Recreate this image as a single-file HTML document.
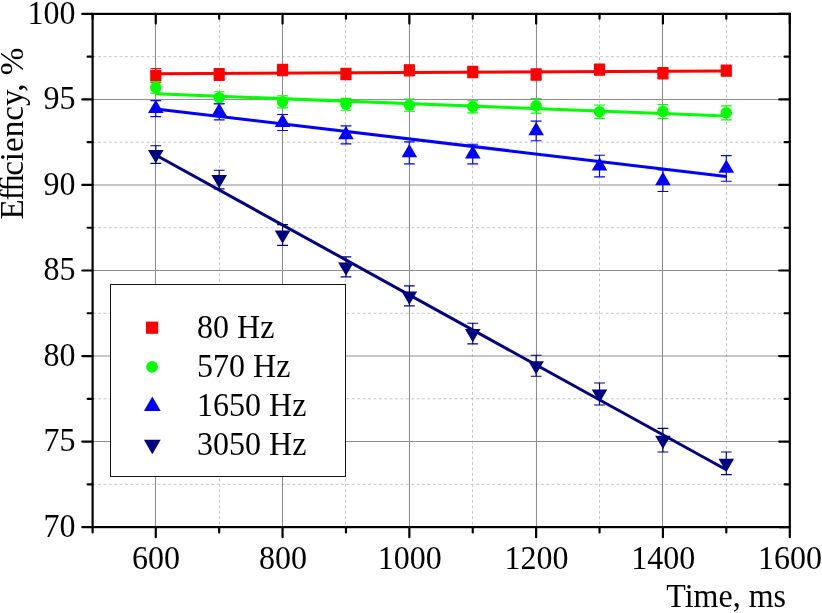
<!DOCTYPE html>
<html><head><meta charset="utf-8"><title>chart</title>
<style>html,body{margin:0;padding:0;background:#fff;width:822px;height:613px;overflow:hidden}</style></head>
<body>
<svg width="822" height="613" viewBox="0 0 822 613" style="position:absolute;left:0;top:0;will-change:transform;font-family:'Liberation Serif',serif;font-size:32px">
<path d="M219.50 13.9 V527.1 M345.50 13.9 V527.1 M472.50 13.9 V527.1 M599.50 13.9 V527.1 M726.50 13.9 V527.1 M92.6 484.33 H789.8 M92.6 398.80 H789.8 M92.6 313.27 H789.8 M92.6 227.73 H789.8 M92.6 142.20 H789.8 M92.6 56.67 H789.8" stroke="#c6c6c6" stroke-width="1" stroke-dasharray="3 2.4" fill="none"/>
<path d="M155.50 13.9 V527.1 M282.50 13.9 V527.1 M409.50 13.9 V527.1 M536.50 13.9 V527.1 M662.50 13.9 V527.1 M92.6 441.57 H789.8 M92.6 356.03 H789.8 M92.6 270.50 H789.8 M92.6 184.97 H789.8 M92.6 99.43 H789.8" stroke="#8e8e8e" stroke-width="1.1" fill="none"/>
<path d="M155.7 73.7 L726.3 71.0" stroke="#ff0000" stroke-width="3" fill="none"/>
<path d="M155.79 68.60 V82.60 M150.39 68.60 h10.8 M150.39 82.60 h10.8" stroke="#ff0000" stroke-width="1.15" fill="none"/>
<rect x="150.19" y="70.00" width="11.2" height="11.2" fill="#ff0000"/>
<path d="M219.18 68.50 V80.30 M213.78 68.50 h10.8 M213.78 80.30 h10.8" stroke="#ff0000" stroke-width="1.15" fill="none"/>
<rect x="213.58" y="68.80" width="11.2" height="11.2" fill="#ff0000"/>
<path d="M282.57 64.40 V75.60 M277.17 64.40 h10.8 M277.17 75.60 h10.8" stroke="#ff0000" stroke-width="1.15" fill="none"/>
<rect x="276.97" y="64.40" width="11.2" height="11.2" fill="#ff0000"/>
<path d="M345.96 68.40 V79.60 M340.56 68.40 h10.8 M340.56 79.60 h10.8" stroke="#ff0000" stroke-width="1.15" fill="none"/>
<rect x="340.36" y="68.40" width="11.2" height="11.2" fill="#ff0000"/>
<path d="M409.35 64.70 V75.90 M403.95 64.70 h10.8 M403.95 75.90 h10.8" stroke="#ff0000" stroke-width="1.15" fill="none"/>
<rect x="403.75" y="64.70" width="11.2" height="11.2" fill="#ff0000"/>
<path d="M472.75 66.40 V77.60 M467.35 66.40 h10.8 M467.35 77.60 h10.8" stroke="#ff0000" stroke-width="1.15" fill="none"/>
<rect x="467.15" y="66.40" width="11.2" height="11.2" fill="#ff0000"/>
<path d="M536.14 68.90 V80.10 M530.74 68.90 h10.8 M530.74 80.10 h10.8" stroke="#ff0000" stroke-width="1.15" fill="none"/>
<rect x="530.54" y="68.90" width="11.2" height="11.2" fill="#ff0000"/>
<path d="M599.53 64.00 V75.20 M594.13 64.00 h10.8 M594.13 75.20 h10.8" stroke="#ff0000" stroke-width="1.15" fill="none"/>
<rect x="593.93" y="64.00" width="11.2" height="11.2" fill="#ff0000"/>
<path d="M662.92 67.60 V78.80 M657.52 67.60 h10.8 M657.52 78.80 h10.8" stroke="#ff0000" stroke-width="1.15" fill="none"/>
<rect x="657.32" y="67.60" width="11.2" height="11.2" fill="#ff0000"/>
<path d="M726.31 65.00 V76.20 M720.91 65.00 h10.8 M720.91 76.20 h10.8" stroke="#ff0000" stroke-width="1.15" fill="none"/>
<rect x="720.71" y="65.00" width="11.2" height="11.2" fill="#ff0000"/>
<path d="M155.7 93.8 L726.3 116.0" stroke="#00ff00" stroke-width="3" fill="none"/>
<path d="M155.79 81.90 V93.10 M150.39 81.90 h10.8 M150.39 93.10 h10.8" stroke="#00ff00" stroke-width="1.15" fill="none"/>
<circle cx="155.79" cy="87.50" r="5.7" fill="#00ff00"/>
<path d="M219.18 91.70 V103.50 M213.78 91.70 h10.8 M213.78 103.50 h10.8" stroke="#00ff00" stroke-width="1.15" fill="none"/>
<circle cx="219.18" cy="97.60" r="5.7" fill="#00ff00"/>
<path d="M282.57 95.90 V107.90 M277.17 95.90 h10.8 M277.17 107.90 h10.8" stroke="#00ff00" stroke-width="1.15" fill="none"/>
<circle cx="282.57" cy="101.90" r="5.7" fill="#00ff00"/>
<path d="M345.96 98.40 V110.20 M340.56 98.40 h10.8 M340.56 110.20 h10.8" stroke="#00ff00" stroke-width="1.15" fill="none"/>
<circle cx="345.96" cy="104.30" r="5.7" fill="#00ff00"/>
<path d="M409.35 99.00 V111.20 M403.95 99.00 h10.8 M403.95 111.20 h10.8" stroke="#00ff00" stroke-width="1.15" fill="none"/>
<circle cx="409.35" cy="105.10" r="5.7" fill="#00ff00"/>
<path d="M472.75 100.80 V112.80 M467.35 100.80 h10.8 M467.35 112.80 h10.8" stroke="#00ff00" stroke-width="1.15" fill="none"/>
<circle cx="472.75" cy="106.80" r="5.7" fill="#00ff00"/>
<path d="M536.14 98.50 V113.10 M530.74 98.50 h10.8 M530.74 113.10 h10.8" stroke="#00ff00" stroke-width="1.15" fill="none"/>
<circle cx="536.14" cy="105.80" r="5.7" fill="#00ff00"/>
<path d="M599.53 105.00 V118.40 M594.13 105.00 h10.8 M594.13 118.40 h10.8" stroke="#00ff00" stroke-width="1.15" fill="none"/>
<circle cx="599.53" cy="111.70" r="5.7" fill="#00ff00"/>
<path d="M662.92 104.60 V118.40 M657.52 104.60 h10.8 M657.52 118.40 h10.8" stroke="#00ff00" stroke-width="1.15" fill="none"/>
<circle cx="662.92" cy="111.50" r="5.7" fill="#00ff00"/>
<path d="M726.31 105.80 V119.80 M720.91 105.80 h10.8 M720.91 119.80 h10.8" stroke="#00ff00" stroke-width="1.15" fill="none"/>
<circle cx="726.31" cy="112.80" r="5.7" fill="#00ff00"/>
<path d="M155.7 108.9 L726.3 176.5" stroke="#0000ff" stroke-width="3" fill="none"/>
<path d="M155.79 100.60 V116.60 M150.39 100.60 h10.8 M150.39 116.60 h10.8" stroke="#0000ff" stroke-width="1.15" fill="none"/>
<path d="M155.79 99.73 L163.59 113.03 H147.99 Z" fill="#0000ff"/>
<path d="M219.18 103.80 V119.80 M213.78 103.80 h10.8 M213.78 119.80 h10.8" stroke="#0000ff" stroke-width="1.15" fill="none"/>
<path d="M219.18 102.93 L226.98 116.23 H211.38 Z" fill="#0000ff"/>
<path d="M282.57 114.50 V130.50 M277.17 114.50 h10.8 M277.17 130.50 h10.8" stroke="#0000ff" stroke-width="1.15" fill="none"/>
<path d="M282.57 113.63 L290.37 126.93 H274.77 Z" fill="#0000ff"/>
<path d="M345.96 125.80 V143.80 M340.56 125.80 h10.8 M340.56 143.80 h10.8" stroke="#0000ff" stroke-width="1.15" fill="none"/>
<path d="M345.96 125.93 L353.76 139.23 H338.16 Z" fill="#0000ff"/>
<path d="M409.35 141.80 V163.80 M403.95 141.80 h10.8 M403.95 163.80 h10.8" stroke="#0000ff" stroke-width="1.15" fill="none"/>
<path d="M409.35 143.93 L417.15 157.23 H401.55 Z" fill="#0000ff"/>
<path d="M472.75 144.20 V163.80 M467.35 144.20 h10.8 M467.35 163.80 h10.8" stroke="#0000ff" stroke-width="1.15" fill="none"/>
<path d="M472.75 145.13 L480.55 158.43 H464.95 Z" fill="#0000ff"/>
<path d="M536.14 121.10 V140.70 M530.74 121.10 h10.8 M530.74 140.70 h10.8" stroke="#0000ff" stroke-width="1.15" fill="none"/>
<path d="M536.14 122.03 L543.94 135.33 H528.34 Z" fill="#0000ff"/>
<path d="M599.53 155.20 V176.80 M594.13 155.20 h10.8 M594.13 176.80 h10.8" stroke="#0000ff" stroke-width="1.15" fill="none"/>
<path d="M599.53 157.13 L607.33 170.43 H591.73 Z" fill="#0000ff"/>
<path d="M662.92 169.90 V191.50 M657.52 169.90 h10.8 M657.52 191.50 h10.8" stroke="#0000ff" stroke-width="1.15" fill="none"/>
<path d="M662.92 171.83 L670.72 185.13 H655.12 Z" fill="#0000ff"/>
<path d="M726.31 155.60 V181.20 M720.91 155.60 h10.8 M720.91 181.20 h10.8" stroke="#0000ff" stroke-width="1.15" fill="none"/>
<path d="M726.31 159.53 L734.11 172.83 H718.51 Z" fill="#0000ff"/>
<path d="M155.7 155.0 L726.3 469.8" stroke="#000080" stroke-width="3" fill="none"/>
<path d="M155.79 145.70 V163.30 M150.39 145.70 h10.8 M150.39 163.30 h10.8" stroke="#000080" stroke-width="1.15" fill="none"/>
<path d="M155.79 163.37 L163.59 150.07 H147.99 Z" fill="#000080"/>
<path d="M219.18 170.20 V188.80 M213.78 170.20 h10.8 M213.78 188.80 h10.8" stroke="#000080" stroke-width="1.15" fill="none"/>
<path d="M219.18 188.37 L226.98 175.07 H211.38 Z" fill="#000080"/>
<path d="M282.57 224.60 V245.40 M277.17 224.60 h10.8 M277.17 245.40 h10.8" stroke="#000080" stroke-width="1.15" fill="none"/>
<path d="M282.57 243.87 L290.37 230.57 H274.77 Z" fill="#000080"/>
<path d="M345.96 256.90 V276.90 M340.56 256.90 h10.8 M340.56 276.90 h10.8" stroke="#000080" stroke-width="1.15" fill="none"/>
<path d="M345.96 275.77 L353.76 262.47 H338.16 Z" fill="#000080"/>
<path d="M409.35 285.90 V305.90 M403.95 285.90 h10.8 M403.95 305.90 h10.8" stroke="#000080" stroke-width="1.15" fill="none"/>
<path d="M409.35 304.77 L417.15 291.47 H401.55 Z" fill="#000080"/>
<path d="M472.75 323.20 V343.80 M467.35 323.20 h10.8 M467.35 343.80 h10.8" stroke="#000080" stroke-width="1.15" fill="none"/>
<path d="M472.75 342.37 L480.55 329.07 H464.95 Z" fill="#000080"/>
<path d="M536.14 355.20 V376.20 M530.74 355.20 h10.8 M530.74 376.20 h10.8" stroke="#000080" stroke-width="1.15" fill="none"/>
<path d="M536.14 374.57 L543.94 361.27 H528.34 Z" fill="#000080"/>
<path d="M599.53 383.00 V405.00 M594.13 383.00 h10.8 M594.13 405.00 h10.8" stroke="#000080" stroke-width="1.15" fill="none"/>
<path d="M599.53 402.87 L607.33 389.57 H591.73 Z" fill="#000080"/>
<path d="M662.92 428.40 V452.00 M657.52 428.40 h10.8 M657.52 452.00 h10.8" stroke="#000080" stroke-width="1.15" fill="none"/>
<path d="M662.92 449.07 L670.72 435.77 H655.12 Z" fill="#000080"/>
<path d="M726.31 452.00 V474.60 M720.91 452.00 h10.8 M720.91 474.60 h10.8" stroke="#000080" stroke-width="1.15" fill="none"/>
<path d="M726.31 472.17 L734.11 458.87 H718.51 Z" fill="#000080"/>
<rect x="110.5" y="284.5" width="235" height="192" fill="#fff" stroke="#151515" stroke-width="1"/>
<rect x="146.00" y="321.60" width="12.2" height="12.2" fill="#ff0000"/>
<circle cx="152.10" cy="366.80" r="5.9" fill="#00ff00"/>
<path d="M152.3 396.4 L160.7 410.9 H143.9 Z" fill="#0000ff"/>
<path d="M152.3 454.2 L160.7 439.8 H143.9 Z" fill="#000080"/>
<text transform="translate(197.10 338.00) scale(1 1.045)" text-anchor="start">80 Hz</text>
<text transform="translate(197.10 377.20) scale(1 1.045)" text-anchor="start">570 Hz</text>
<text transform="translate(197.10 416.35) scale(1 1.045)" text-anchor="start">1650 Hz</text>
<text transform="translate(197.10 455.25) scale(1 1.045)" text-anchor="start">3050 Hz</text>
<rect x="92.6" y="13.9" width="697.20" height="513.20" fill="none" stroke="#000" stroke-width="2.2"/>
<path d="M92.60 527.1 v5.3 M92.60 13.9 v4.8 M155.79 527.1 v10.1 M155.79 13.9 v9.7 M219.18 527.1 v5.3 M219.18 13.9 v4.8 M282.57 527.1 v10.1 M282.57 13.9 v9.7 M345.96 527.1 v5.3 M345.96 13.9 v4.8 M409.35 527.1 v10.1 M409.35 13.9 v9.7 M472.75 527.1 v5.3 M472.75 13.9 v4.8 M536.14 527.1 v10.1 M536.14 13.9 v9.7 M599.53 527.1 v5.3 M599.53 13.9 v4.8 M662.92 527.1 v10.1 M662.92 13.9 v9.7 M726.31 527.1 v5.3 M726.31 13.9 v4.8 M789.80 527.1 v10.1 M789.80 13.9 v9.7 M92.6 527.10 h-10.3 M789.8 527.10 h-10.6 M92.6 484.33 h-5.0 M789.8 484.33 h-5.2 M92.6 441.57 h-10.3 M789.8 441.57 h-10.6 M92.6 398.80 h-5.0 M789.8 398.80 h-5.2 M92.6 356.03 h-10.3 M789.8 356.03 h-10.6 M92.6 313.27 h-5.0 M789.8 313.27 h-5.2 M92.6 270.50 h-10.3 M789.8 270.50 h-10.6 M92.6 227.73 h-5.0 M789.8 227.73 h-5.2 M92.6 184.97 h-10.3 M789.8 184.97 h-10.6 M92.6 142.20 h-5.0 M789.8 142.20 h-5.2 M92.6 99.43 h-10.3 M789.8 99.43 h-10.6 M92.6 56.67 h-5.0 M789.8 56.67 h-5.2 M92.6 13.90 h-10.3 M789.8 13.90 h-10.6" stroke="#000" stroke-width="2.2" stroke-linecap="round" fill="none"/>
<text transform="translate(75.50 536.90) scale(1 1.045)" text-anchor="end">70</text>
<text transform="translate(75.50 451.37) scale(1 1.045)" text-anchor="end">75</text>
<text transform="translate(75.50 365.83) scale(1 1.045)" text-anchor="end">80</text>
<text transform="translate(75.50 280.30) scale(1 1.045)" text-anchor="end">85</text>
<text transform="translate(75.50 194.77) scale(1 1.045)" text-anchor="end">90</text>
<text transform="translate(75.50 109.23) scale(1 1.045)" text-anchor="end">95</text>
<text transform="translate(75.50 23.70) scale(1 1.045)" text-anchor="end">100</text>
<text transform="translate(156.09 569.00) scale(1 1.045)" text-anchor="middle">600</text>
<text transform="translate(282.87 569.00) scale(1 1.045)" text-anchor="middle">800</text>
<text transform="translate(409.65 569.00) scale(1 1.045)" text-anchor="middle">1000</text>
<text transform="translate(536.44 569.00) scale(1 1.045)" text-anchor="middle">1200</text>
<text transform="translate(663.22 569.00) scale(1 1.045)" text-anchor="middle">1400</text>
<text transform="translate(790.00 569.00) scale(1 1.045)" text-anchor="middle">1600</text>
<text transform="translate(786.00 606.50) scale(1 1.045)" text-anchor="end">Time, ms</text>
<text transform="translate(23.3 219.4) rotate(-90)" font-size="33.1">E<tspan dx="-1.3">f</tspan><tspan dx="-2.6">ﬁ</tspan><tspan dx="-2.2">ciency, %</tspan></text>
</svg>
</body></html>
